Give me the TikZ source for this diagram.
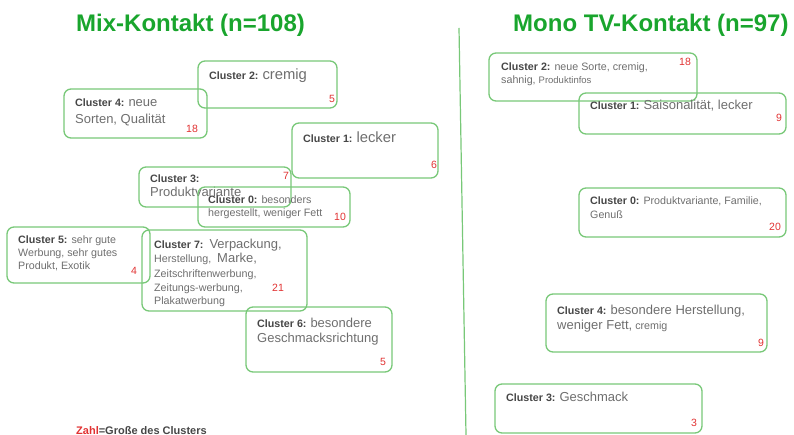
\documentclass[tikz,border=0pt]{standalone}
\usepackage{fontspec}
\setmainfont{Liberation Sans}
\usetikzlibrary{fit}
\definecolor{boxgreen}{RGB}{120,200,120}
\definecolor{titlegreen}{RGB}{25,165,45}
\definecolor{txtgray}{RGB}{110,110,110}
\definecolor{lblgray}{RGB}{70,70,70}
\definecolor{numred}{RGB}{225,50,50}
\newcommand{\szS}{\fontsize{10.7}{12}\selectfont}
\newcommand{\szM}{\fontsize{13}{15}\selectfont}
\newcommand{\szL}{\fontsize{14.8}{17}\selectfont}
\newcommand{\clab}[1]{{\szS\bfseries\color{lblgray}#1}}
\tikzset{
  clbox/.style={draw=boxgreen, line width=1.3pt, rounded corners=7pt, inner sep=0pt},
  lbl/.style={anchor=base west, inner sep=0pt, text=txtgray, font=\szS},
  num/.style={inner sep=0pt, text=numred, font=\fontsize{10.5}{12}\selectfont},
  ttl/.style={anchor=base west, inner sep=0pt, text=titlegreen, font=\fontsize{24}{28}\selectfont\bfseries},
}
\begin{document}
\begin{tikzpicture}[x=1pt,y=-1pt]
\useasboundingbox (0,0) rectangle (794,435);
% titles
\node[ttl] (t1) at (76,31.5) {Mix-Kontakt (n=108)};
\node[ttl] (t2) at (513,31.5) {Mono TV-Kontakt (n=97)};
% divider
\coordinate (dtop) at (459,28);
\coordinate (dbot) at (466,435);
\draw[boxgreen, line width=1.2pt] (dtop) -- (dbot);
% ---- Mix boxes ----
\node[clbox, fit={(198,61) (337,108)}] (m2) {};
\node[lbl] (m2a) at (209,80) {\clab{Cluster 2:} \szL cremig};
\node[num] (m2n) at (332,99) {5};

\node[clbox, fit={(64,89) (207,138)}] (m4) {};
\node[lbl] (m4a) at (75,107) {\clab{Cluster 4:} \szM neue};
\node[lbl, font=\szM] (m4b) at (75,124) {Sorten, Qualität};
\node[num] (m4n) at (192,129) {18};

\node[clbox, fit={(292,123) (438,178)}] (m1) {};
\node[lbl] (m1a) at (303,143) {\clab{Cluster 1:} \szL lecker};
\node[num] (m1n) at (434,165) {6};

\node[clbox, fit={(139,167) (291,207)}] (m3) {};
\node[lbl] (m3a) at (150,183) {\clab{Cluster 3:}};
\node[lbl, font=\szM] (m3b) at (150,197) {Produktvariante};
\node[num] (m3n) at (286,176) {7};

\node[clbox, fit={(198,187) (350,227)}] (m0) {};
\node[lbl] (m0a) at (208,204) {\clab{Cluster 0:} besonders};
\node[lbl] (m0b) at (208,217) {hergestellt, weniger Fett};
\node[num] (m0n) at (340,217) {10};

\node[clbox, fit={(7,227) (150,283)}] (m5) {};
\node[lbl] (m5a) at (18,244) {\clab{Cluster 5:} sehr gute};
\node[lbl] (m5b) at (18,257) {Werbung, sehr gutes};
\node[lbl] (m5c) at (18,270) {Produkt, Exotik};
\node[num] (m5n) at (134,271) {4};

\node[clbox, fit={(142,230) (307,311)}] (m7) {};
\node[lbl] (m7a) at (154,249) {\clab{Cluster 7:}\ \ \szM Verpackung,};
\node[lbl] (m7b) at (154,263) {Herstellung,\ \ \szM Marke,};
\node[lbl] (m7c) at (154,277) {Zeitschriftenwerbung,};
\node[lbl] (m7d) at (154,291) {Zeitungs-werbung,};
\node[lbl] (m7e) at (154,304) {Plakatwerbung};
\node[num] (m7n) at (278,288) {21};

\node[clbox, fit={(246,307) (392,372)}] (m6) {};
\node[lbl] (m6a) at (257,327) {\clab{Cluster 6:} \szM besondere};
\node[lbl, font=\szM] (m6b) at (257,342) {Geschmacksrichtung};
\node[num] (m6n) at (383,362) {5};

% legend
\node[lbl, font=\fontsize{11}{13}\selectfont\bfseries] (leg) at (76,434) {\textcolor{numred}{Zahl}\textcolor{lblgray}{=Große des Clusters}};

% ---- Mono boxes ----
\node[clbox, fit={(489,53) (697,101)}] (n2) {};
\node[lbl] (n2a) at (501,71) {\clab{Cluster 2:} neue Sorte, cremig,};
\node[lbl] (n2b) at (501,84) {sahnig, {\fontsize{9.5}{11}\selectfont Produktinfos}};
\node[num] (n2n) at (685,62) {18};

\node[clbox, fit={(579,93) (786,134)}] (n1) {};
\node[lbl] (n1a) at (590,110) {\clab{Cluster 1:} \szM Saisonalität, lecker};
\node[num] (n1n) at (779,118) {9};

\node[clbox, fit={(579,188) (786,237)}] (n0) {};
\node[lbl] (n0a) at (590,205) {\clab{Cluster 0:} Produktvariante, Familie,};
\node[lbl] (n0b) at (590,219) {Genuß};
\node[num] (n0n) at (775,227) {20};

\node[clbox, fit={(546,294) (767,352)}] (n4) {};
\node[lbl] (n4a) at (557,314) {\clab{Cluster 4:} \szM besondere Herstellung,};
\node[lbl] (n4b) at (557,329) {{\szM weniger Fett,} cremig};
\node[num] (n4n) at (761,343) {9};

\node[clbox, fit={(495,384) (702,433)}] (n3) {};
\node[lbl] (n3a) at (506,401) {\clab{Cluster 3:} \szM Geschmack};
\node[num] (n3n) at (694,423) {3};
\end{tikzpicture}
\end{document}
